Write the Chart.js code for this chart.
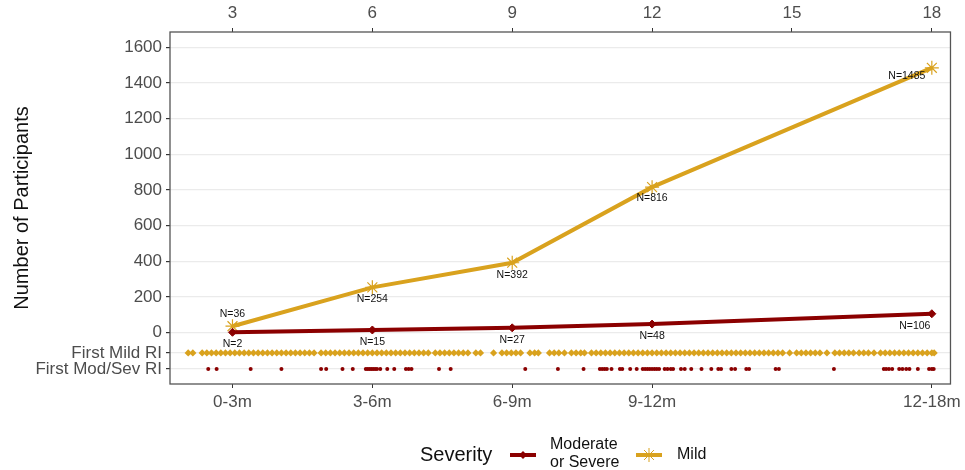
<!DOCTYPE html>
<html>
<head>
<meta charset="utf-8">
<title>Participants by follow-up</title>
<script src="https://cdn.jsdelivr.net/npm/chart.js@4.4.1/dist/chart.umd.min.js"></script>
<style>
  html, body { margin: 0; padding: 0; background: #fff; }
  #wrap { width: 965px; height: 470px; }
</style>
</head>
<body>
<div id="wrap"><canvas id="myChart" width="965" height="470"></canvas></div>
<script>
// months since start for each follow-up window
var months = [3, 6, 9, 12, 18];
var windowLabels = ["0-3m", "3-6m", "6-9m", "9-12m", "12-18m"];
var topTicks = [3, 6, 9, 12, 15, 18];

// cumulative number of participants by severity
var moderateSevere = [2, 15, 27, 48, 106];
var mild = [36, 254, 392, 816, 1485];

// y ticks (the two negative slots are the rug rows under the zero line)
var yTicks = [-204, -114, 0, 200, 400, 600, 800, 1000, 1200, 1400, 1600];
var rowLabels = { "-114": "First Mild RI", "-204": "First Mod/Sev RI" };

// month of first mild respiratory illness (rug row)
var firstMildRI = [2.05, 2.15,
  2.35, 2.45, 2.55, 2.65, 2.75, 2.85, 2.95, 3.05, 3.15, 3.25, 3.35, 3.45, 3.55, 3.65,
  3.75, 3.85, 3.95, 4.05, 4.15, 4.25, 4.35, 4.45, 4.55, 4.65, 4.75,
  4.9, 5.0, 5.1, 5.2, 5.3, 5.4, 5.5, 5.6, 5.7, 5.8, 5.9, 6.0, 6.1, 6.2, 6.3, 6.4,
  6.5, 6.6, 6.7, 6.8, 6.9, 7.0, 7.1, 7.2,
  7.35, 7.45, 7.55, 7.65, 7.75, 7.85, 7.95, 8.05,
  8.22, 8.32, 8.6, 8.78, 8.88, 8.98, 9.08, 9.18, 9.38, 9.48, 9.56,
  9.8, 9.9, 10.0, 10.12, 10.27, 10.37, 10.47, 10.55,
  10.7, 10.8, 10.9, 11.0, 11.1, 11.2, 11.3, 11.4, 11.5, 11.6, 11.7, 11.8, 11.9, 12.0,
  12.1, 12.2, 12.3, 12.4, 12.5, 12.6, 12.7, 12.8, 12.9, 13.0, 13.1, 13.2, 13.3, 13.4,
  13.5, 13.6, 13.7, 13.8, 13.9, 14.0, 14.1, 14.2, 14.3, 14.4, 14.5, 14.6, 14.7, 14.8, 14.95,
  15.1, 15.2, 15.3, 15.4, 15.5, 15.6, 15.75,
  15.92, 16.02, 16.12, 16.22, 16.32, 16.44, 16.54, 16.64, 16.76,
  16.9, 17.0, 17.1, 17.2, 17.3, 17.4, 17.5, 17.6, 17.7, 17.8, 17.9, 18.0, 18.05];

// month of first moderate/severe respiratory illness (rug row)
var firstModSevRI = [2.48, 2.66, 3.39, 4.05, 4.9, 5.01, 5.36, 5.58,
  5.86, 5.9, 5.94, 5.98, 6.02, 6.06, 6.1, 6.17, 6.32, 6.47, 6.72, 6.78, 6.84,
  7.43, 7.68, 9.28, 9.98, 10.53, 10.88, 10.93, 10.98, 11.03, 11.13, 11.31, 11.36,
  11.53, 11.67, 11.8, 11.85, 11.9, 11.95, 12.0, 12.05, 12.1, 12.15, 12.27, 12.33,
  12.4, 12.45, 12.62, 12.7, 12.84, 13.06, 13.27, 13.42, 13.48, 13.7, 13.78, 14.02,
  14.08, 14.65, 14.72, 15.9, 16.97, 17.02, 17.08, 17.15, 17.3, 17.37, 17.45, 17.52,
  17.7, 17.94, 18.0, 18.04];

var red = "#8B0000";
var gold = "#D9A21E";
var FONT = "'Liberation Sans', Arial, sans-serif";

function toPoints(xs, ys) {
  return xs.map(function (x, i) { return { x: x, y: ys[i] }; });
}
function toRow(xs, row) {
  return xs.map(function (x) { return { x: x, y: row }; });
}

// N= labels: offset of the text centre from its point, in px
var labelOffsets = [
  [[0, 12], [0, 12], [0, 12], [0, 12], [-17, 12]],   // moderate/severe
  [[0, -12], [0, 12], [0, 12], [0, 11], [-25, 8]]    // mild
];

var nLabels = {
  id: "nLabels",
  afterDatasetsDraw: function (chart) {
    var c = chart.ctx;
    c.save();
    c.font = "10.5px " + FONT;
    c.fillStyle = "#111";
    c.textAlign = "center";
    c.textBaseline = "middle";
    [0, 1].forEach(function (di) {
      var meta = chart.getDatasetMeta(di);
      var values = chart.data.datasets[di].data;
      meta.data.forEach(function (pt, i) {
        var off = labelOffsets[di][i];
        c.fillText("N=" + values[i].y, pt.x + off[0], pt.y + off[1]);
      });
    });
    c.restore();
  }
};

// panel border + legend along the bottom
var frameAndLegend = {
  id: "frameAndLegend",
  afterDraw: function (chart) {
    var c = chart.ctx;
    var a = chart.chartArea;
    c.save();
    c.strokeStyle = "#555";
    c.lineWidth = 1.3;
    c.strokeRect(a.left, a.top, a.right - a.left, a.bottom - a.top);

    var ly = 455;
    c.fillStyle = "#111";
    c.textBaseline = "middle";
    c.textAlign = "left";
    c.font = "20px " + FONT;
    c.fillText("Severity", 420, ly);

    // moderate or severe key
    c.strokeStyle = red;
    c.lineWidth = 4;
    c.beginPath(); c.moveTo(510, ly); c.lineTo(536, ly); c.stroke();
    c.fillStyle = red;
    c.beginPath(); c.moveTo(523, ly - 4); c.lineTo(527, ly); c.lineTo(523, ly + 4); c.lineTo(519, ly); c.closePath(); c.fill();

    c.fillStyle = "#111";
    c.font = "16px " + FONT;
    c.fillText("Moderate", 550, ly - 10);
    c.fillText("or Severe", 550, ly + 8);

    // mild key
    c.strokeStyle = gold;
    c.lineWidth = 4;
    c.beginPath(); c.moveTo(636, ly); c.lineTo(662, ly); c.stroke();
    c.lineWidth = 1;
    Chart.helpers.drawPoint(c, { pointStyle: "star", radius: 7, borderWidth: 1 }, 649, ly);
    c.fillText("Mild", 677, ly);
    c.restore();
  }
};

var ctx = document.getElementById("myChart");

var myChart = new Chart(ctx, {
  type: "scatter",
  data: {
    datasets: [{
      label: "Moderate or Severe",
      data: toPoints(months, moderateSevere),
      showLine: true,
      borderColor: red,
      backgroundColor: red,
      borderWidth: 4,
      pointStyle: "rectRot",
      pointRadius: 4,
      pointBorderWidth: 1,
      xAxisID: "x"
    }, {
      label: "Mild",
      data: toPoints(months, mild),
      showLine: true,
      borderColor: gold,
      backgroundColor: gold,
      borderWidth: 4,
      pointStyle: "star",
      pointRadius: 7,
      pointBorderWidth: 1.2,
      xAxisID: "x"
    }, {
      label: "First Mild RI",
      data: toRow(firstMildRI, -114),
      showLine: false,
      backgroundColor: gold,
      borderColor: gold,
      pointStyle: "rectRot",
      pointRadius: 3.6,
      pointBorderWidth: 0,
      xAxisID: "x"
    }, {
      label: "First Mod/Sev RI",
      data: toRow(firstModSevRI, -204),
      showLine: false,
      backgroundColor: red,
      borderColor: red,
      pointStyle: "circle",
      pointRadius: 2,
      pointBorderWidth: 0,
      xAxisID: "x"
    }]
  },
  plugins: [nLabels, frameAndLegend],
  options: {
    responsive: false,
    animation: false,
    layout: { padding: { left: 0, right: 11, top: 0, bottom: 0 } },
    plugins: {
      legend: { display: false },
      tooltip: { enabled: false }
    },
    scales: {
      x: {
        type: "linear",
        position: "bottom",
        min: 1.66,
        max: 18.4,
        afterBuildTicks: function (axis) {
          axis.ticks = months.map(function (v) { return { value: v }; });
        },
        afterFit: function (axis) { axis.height = 86; },
        ticks: {
          autoSkip: false,
          maxRotation: 0,
          padding: 4,
          color: "#4d4d4d",
          font: { family: FONT, size: 17 },
          callback: function (v) { return windowLabels[months.indexOf(v)]; }
        },
        grid: { drawOnChartArea: false, drawTicks: true, tickLength: 4, tickColor: "#333" },
        border: { display: false }
      },
      xTop: {
        type: "linear",
        position: "top",
        min: 1.66,
        max: 18.4,
        afterBuildTicks: function (axis) {
          axis.ticks = topTicks.map(function (v) { return { value: v }; });
        },
        afterFit: function (axis) { axis.height = 32; },
        ticks: {
          autoSkip: false,
          maxRotation: 0,
          padding: 4,
          color: "#4d4d4d",
          font: { family: FONT, size: 17 }
        },
        grid: { drawOnChartArea: false, drawTicks: true, tickLength: 4, tickColor: "#333" },
        border: { display: false }
      },
      y: {
        type: "linear",
        min: -288,
        max: 1686,
        afterBuildTicks: function (axis) {
          axis.ticks = yTicks.map(function (v) { return { value: v }; });
        },
        afterFit: function (axis) { axis.width = 170; },
        ticks: {
          autoSkip: false,
          padding: 4,
          color: "#4d4d4d",
          font: { family: FONT, size: 17 },
          callback: function (v) { return rowLabels[String(v)] || String(v); }
        },
        grid: { color: "#ebebeb", lineWidth: 1.2, drawTicks: true, tickLength: 4, tickColor: "#333" },
        border: { display: false },
        title: {
          display: true,
          text: "Number of Participants",
          color: "#111",
          font: { family: FONT, size: 20 },
          padding: { top: 10, bottom: 0 }
        }
      }
    }
  }
});
</script>
</body>
</html>
